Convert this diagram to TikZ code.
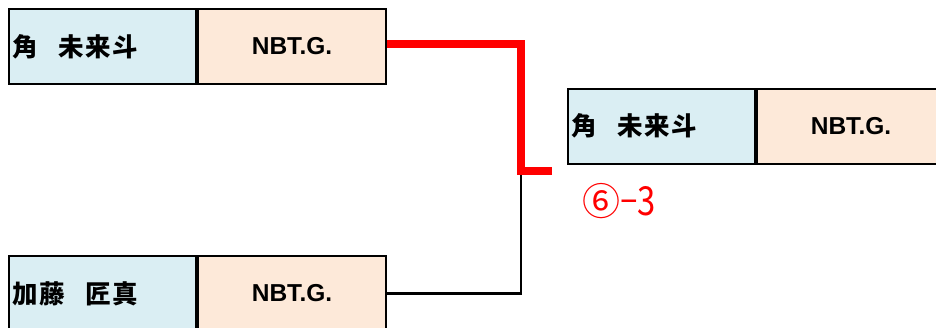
\documentclass[tikz,border=0pt]{standalone}
\usepackage{fontspec}
\setmainfont{Liberation Sans}
\newfontfamily\cjk{Noto Sans CJK JP}
\newfontfamily\cjkls[LetterSpace=5]{Noto Sans CJK JP}
\definecolor{nameblue}{HTML}{DAEEF3}
\definecolor{teampeach}{HTML}{FDE9D9}
\definecolor{wred}{HTML}{FF0000}
\begin{document}
\begin{tikzpicture}[x=1pt,y=-1pt,
  namecell/.style={draw=black, line width=2pt, fill=nameblue, anchor=north west,
    text width=180pt, inner xsep=3.5pt, inner ysep=0pt, minimum height=75pt, align=left,
    font=\cjkls\bfseries\fontsize{25.5}{28}\selectfont},
  teamcell/.style={draw=black, line width=2pt, fill=teampeach, anchor=west,
    minimum width=188pt, minimum height=75pt, inner sep=0pt,
    font=\bfseries\fontsize{24.5}{28}\selectfont},
  winline/.style={draw=wred, line width=8pt, line join=miter},
  loseline/.style={draw=black, line width=2.5pt},
  score/.style={text=wred, inner sep=0pt, anchor=base west, font=\cjk}]
\useasboundingbox (0,0) rectangle (936,327);
% box 1
\node[namecell] (n1) at (8,8) {角\hspace{21pt}未来斗};
\node[teamcell] (t1) at (n1.east) {NBT.G.};
% box 2
\node[namecell] (n2) at (8,255) {加藤\hspace{21pt}匠真};
\node[teamcell] (t2) at (n2.east) {NBT.G.};
% winner box
\node[namecell] (n3) at (567,87.5) {角\hspace{21pt}未来斗};
\node[teamcell] (t3) at (n3.east) {NBT.G.};
% connectors
\coordinate (j) at (521,171);
\coordinate (w) at (552,171);
\draw[loseline] (t2.east) -| (j);
\draw[winline] ([yshift=2.5pt]t1.east) -| (j) -- (w);
\node[score] (s) at (582,215.5) {{\fontsize{38}{42}\selectfont ⑥}{\fontsize{40}{44}\selectfont\scalebox{0.82}[1]{\raisebox{3pt}{–}3}}};
\end{tikzpicture}
\end{document}
